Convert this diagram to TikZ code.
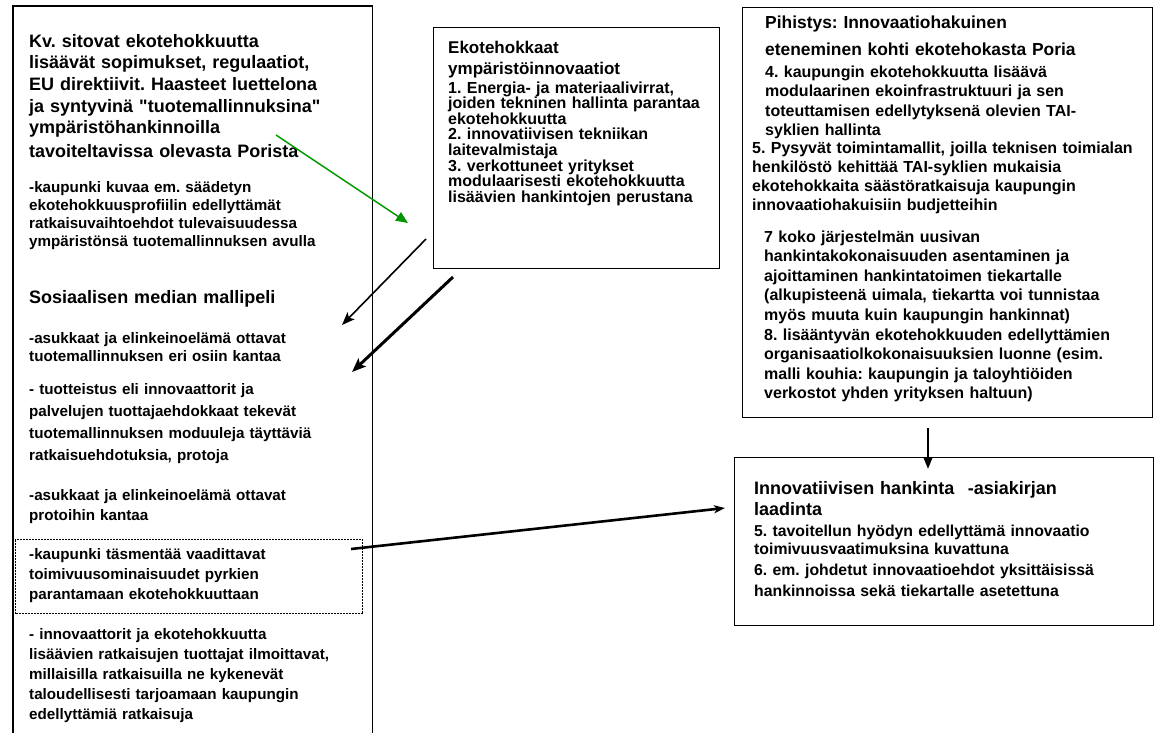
\documentclass[tikz,border=0pt]{standalone}
\usepackage{fontspec}
\setmainfont{Liberation Sans}
% the same family without the TeX quote mapping, so " stays straight
\newfontfamily\plainsans{Liberation Sans}
\usetikzlibrary{arrows.meta}
\definecolor{arrowgreen}{RGB}{0,150,0}
% bold text with a fixed font size and baseline distance
\newcommand\txtsize[2]{\plainsans\fontsize{#1}{#2}\selectfont\bfseries\frenchspacing\lineskiplimit=-100pt\relax}

\begin{document}
\begin{tikzpicture}[x=1pt,y=-1pt,
  frame/.style={draw=black, line width=1.2pt, inner sep=0pt, anchor=north west},
  txt/.style={anchor=base west, inner sep=0pt, align=left, text width=#1},
  txt/.default=330pt,
  lhead/.style={txt=340pt, font=\txtsize{18}{21.7}},
  lbody/.style={txt=340pt, font=\txtsize{15.2}{#1}},
  conn/.style={line width=#1, draw=black},
]
\useasboundingbox (0,0) rectangle (1157,732);

% ---------- frames ----------
\node[frame, draw=none, minimum width=358pt, minimum height=726pt] (leftbox) at (13,6) {};
\draw[line width=1.2pt] (leftbox.south west) -- (leftbox.north west) -- (leftbox.north east) -- (leftbox.south east);
\node[frame, minimum width=286pt, minimum height=241pt] (midbox) at (433,27) {};
\node[frame, minimum width=410pt, minimum height=410pt] (rtbox) at (742,7) {};
\node[frame, minimum width=419pt, minimum height=168pt] (rbbox) at (734,457) {};
\node[frame, dash pattern=on 2pt off 1pt, minimum width=347pt, minimum height=74pt] (dotbox) at (15,539) {};

% ---------- left column ----------
\node[lhead] (lt) at (29,47) {Kv. sitovat ekotehokkuutta\\lisäävät sopimukset, regulaatiot,\\EU direktiivit. Haasteet luettelona\\ja syntyvinä "tuotemallinnuksina"\\ympäristöhankinnoilla\\[2pt]tavoiteltavissa olevasta Porista};
\node[lbody=18.3] (l1) at (29,192) {-kaupunki kuvaa em. säädetyn\\ekotehokkuusprofiilin edellyttämät\\ratkaisuvaihtoehdot tulevaisuudessa\\ympäristönsä tuotemallinnuksen avulla};
\node[lhead] (l2) at (29,303) {Sosiaalisen median mallipeli};
\node[lbody=18] (l3) at (29,343) {-asukkaat ja elinkeinoelämä ottavat\\tuotemallinnuksen eri osiin kantaa};
\node[lbody=22] (l4) at (29,394) {- tuotteistus eli innovaattorit ja\\palvelujen tuottajaehdokkaat tekevät\\tuotemallinnuksen moduuleja täyttäviä\\ratkaisuehdotuksia, protoja};
\node[lbody=20] (l5) at (29,500) {-asukkaat ja elinkeinoelämä ottavat\\protoihin kantaa};
\node[lbody=20.2] (l6) at (29,559) {-kaupunki täsmentää vaadittavat\\toimivuusominaisuudet pyrkien\\parantamaan ekotehokkuuttaan};
\node[lbody=20] (l7) at (29,639) {- innovaattorit ja ekotehokkuutta\\lisäävien ratkaisujen tuottajat ilmoittavat,\\millaisilla ratkaisuilla ne kykenevät\\taloudellisesti tarjoamaan kaupungin\\edellyttämiä ratkaisuja};

% ---------- middle box ----------
\node[txt=266pt, font=\txtsize{17}{21}] (m1) at (448,53) {Ekotehokkaat\\ympäristöinnovaatiot};
\node[txt=266pt, font=\txtsize{16}{15.6}] (m2) at (448,93) {1. Energia- ja materiaalivirrat,\\joiden tekninen hallinta parantaa\\ekotehokkuutta\\2. innovatiivisen tekniikan\\laitevalmistaja\\3. verkottuneet yritykset\\modulaarisesti ekotehokkuutta\\lisäävien hankintojen perustana};

% ---------- upper right box ----------
\node[txt=383pt, font=\txtsize{17.4}{27}] (r1) at (765,28) {Pihistys: Innovaatiohakuinen\\eteneminen kohti ekotehokasta Poria};
\node[txt=383pt, font=\txtsize{16}{19.5}] (r2) at (765,77) {4. kaupungin ekotehokkuutta lisäävä\\modulaarinen ekoinfrastruktuuri ja sen\\toteuttamisen edellytyksenä olevien TAI-\\syklien hallinta};
\node[txt=396pt, font=\txtsize{16}{19}] (r3) at (752,153) {5. Pysyvät toimintamallit, joilla teknisen toimialan\\henkilöstö kehittää TAI-syklien mukaisia\\ekotehokkaita säästöratkaisuja kaupungin\\innovaatiohakuisiin budjetteihin};
\node[txt=384pt, font=\txtsize{16}{19.6}] (r4) at (764,242) {7 koko järjestelmän uusivan\\hankintakokonaisuuden asentaminen ja\\ajoittaminen hankintatoimen tiekartalle\\(alkupisteenä uimala, tiekartta voi tunnistaa\\myös muuta kuin kaupungin hankinnat)\\8. lisääntyvän ekotehokkuuden edellyttämien\\organisaatiolkokonaisuuksien luonne (esim.\\malli kouhia: kaupungin ja taloyhtiöiden\\verkostot yhden yrityksen haltuun)};

% ---------- lower right box ----------
\node[txt=394pt, font=\txtsize{18}{21}] (b1) at (754,494) {Innovatiivisen hankinta\hspace{0.75em}-asiakirjan\\laadinta};
\node[txt=394pt, font=\txtsize{15.8}{18.5}] (b2) at (754,536) {5. tavoitellun hyödyn edellyttämä innovaatio\\toimivuusvaatimuksina kuvattuna};
\node[txt=394pt, font=\txtsize{15.8}{21}] (b3) at (754,575) {6. em. johdetut innovaatioehdot yksittäisissä\\hankinnoissa sekä tiekartalle asetettuna};

% ---------- connectors ----------
\coordinate (g0) at (276,135);
\coordinate (g1) at (408,223);
\coordinate (a0) at (426,239);
\coordinate (a1) at (342,325);
\coordinate (c0) at (453,277);
\coordinate (c1) at (352,372);
\coordinate (d0) at (351,549);
\coordinate (d1) at (725,508);
\coordinate (v0) at (928,428);
\coordinate (v1) at (928,469);

\draw[arrowgreen, line width=1.5pt, -{Triangle[length=12pt,width=10pt]}] (g0) -- (g1);
\draw[conn=1.6pt, -{Stealth[length=13pt,width=10pt,inset=3pt]}] (a0) -- (a1);
\draw[conn=3pt, -{Stealth[length=14pt,width=11pt,inset=3pt]}] (c0) -- (c1);
\draw[conn=2.6pt, -{Stealth[length=11pt,width=8pt,inset=3pt]}] (d0) -- (d1);
\draw[conn=2pt, -{Triangle[length=12pt,width=9pt]}] (v0) -- (v1);
\end{tikzpicture}
\end{document}
